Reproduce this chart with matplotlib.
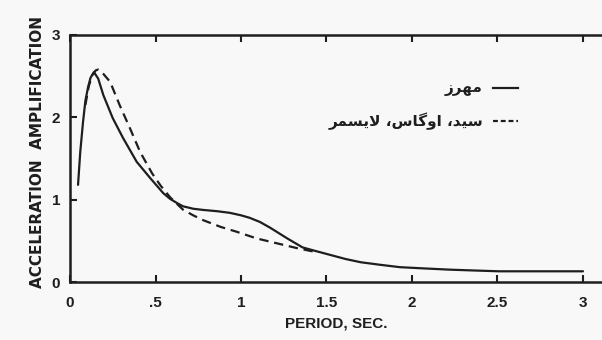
import matplotlib
matplotlib.use("Agg")
import matplotlib.pyplot as plt

# ---- data ----
solid_x = [0.047, 0.06, 0.076, 0.09, 0.105, 0.12, 0.14, 0.165, 0.195, 0.25, 0.31, 0.39,
           0.47, 0.545, 0.585, 0.625, 0.66, 0.72, 0.78, 0.86, 0.935, 1.0, 1.05, 1.11,
           1.17, 1.27, 1.36, 1.43, 1.52, 1.61, 1.70, 1.81, 1.93, 2.07, 2.22, 2.36,
           2.51, 3.0]
solid_y = [1.18, 1.58, 1.94, 2.20, 2.36, 2.48, 2.55, 2.47, 2.27, 1.99, 1.75, 1.46,
           1.26, 1.08, 1.01, 0.96, 0.92, 0.89, 0.875, 0.86, 0.84, 0.81, 0.78, 0.73,
           0.66, 0.53, 0.42, 0.38, 0.33, 0.28, 0.24, 0.21, 0.18, 0.165, 0.15, 0.14,
           0.13, 0.13]

dash_x = [0.09, 0.11, 0.13, 0.15, 0.165, 0.19, 0.235, 0.29, 0.35, 0.41, 0.48, 0.53,
          0.585, 0.66, 0.72, 0.78, 0.88, 0.975, 1.09, 1.21, 1.33, 1.40, 1.45]
dash_y = [2.15, 2.38, 2.51, 2.57, 2.58, 2.54, 2.43, 2.15, 1.87, 1.58, 1.32, 1.17,
          1.03, 0.88, 0.81, 0.75, 0.67, 0.61, 0.53, 0.47, 0.41, 0.38, 0.36]

x_ticks = [0, 0.5, 1, 1.5, 2, 2.5, 3]
x_tick_labels = ["0", ".5", "1", "1.5", "2", "2.5", "3"]
y_ticks = [0, 1, 2, 3]
y_tick_labels = ["0", "1", "2", "3"]

# Persian labels, pre-shaped (presentation forms) in visual left-to-right order
label_solid = "\uFEAF\uFEAE\uFEEC\uFEE3"  # مهرز
label_dash = ("\uFEAE\uFEE4\uFEB4\uFEF3\uFEFB \u060C\uFEB1\uFE8E\uFB94\uFEED\uFE8D"
              " \u060C\uFEAA\uFEF4\uFEB3")  # سید، اوگاس، لایسمر

col = "#1e1e1e"
bg = "#f8f8f8"

fig = plt.figure(figsize=(6.02, 3.40), dpi=100, facecolor=bg)
ax = fig.add_axes([70 / 602, 58 / 340, 532 / 602, 247 / 340], facecolor=bg)

ax.plot(solid_x, solid_y, color=col, lw=1.6, solid_capstyle="round",
        solid_joinstyle="round")
ax.plot(dash_x, dash_y, color=col, lw=1.6, dashes=(4.2, 2.6))

ax.set_xlim(0, 3 * 532 / 513)
ax.set_ylim(0, 3)

ax.spines["right"].set_visible(False)
for s in ["left", "top", "bottom"]:
    ax.spines[s].set_linewidth(1.8)
    ax.spines[s].set_color(col)

ax.set_xticks(x_ticks)
ax.set_xticklabels(x_tick_labels)
ax.set_yticks(y_ticks)
ax.set_yticklabels(y_tick_labels)
ax.tick_params(axis="x", direction="in", top=True, bottom=True, length=5, width=1.5,
               pad=10, colors=col, labelsize=11)
ax.tick_params(axis="y", direction="in", left=True, length=5, width=1.5, pad=7,
               colors=col, labelsize=11)
for t in ax.get_xticklabels() + ax.get_yticklabels():
    t.set_fontweight("bold")
    t.set_family("Liberation Sans")

ax.set_xlabel("PERIOD, SEC.", fontsize=11, fontweight="bold", family="Liberation Sans",
              color=col)
ax.xaxis.set_label_coords(0.5, -0.1417)
ax.set_ylabel("ACCELERATION  AMPLIFICATION", fontsize=11, fontweight="bold",
              family="DejaVu Sans", color=col)
ax.yaxis.set_label_coords(-0.047, 0.526)

# legend (handle to the right of the text, as in the reference)
for yy, ls, lab in [(0.785, "-", label_solid), (0.652, (0, (2.2, 1.3)), label_dash)]:
    ax.plot([423 / 532, 448 / 532], [yy, yy], transform=ax.transAxes, color=col,
            lw=1.6, linestyle=ls, clip_on=False)
    ax.text(413 / 532, yy, lab, transform=ax.transAxes, ha="right", va="center",
            fontsize=11, fontweight="bold", family=["DejaVu Sans"], color=col)

fig.savefig("out.png", dpi=100, facecolor=bg)
